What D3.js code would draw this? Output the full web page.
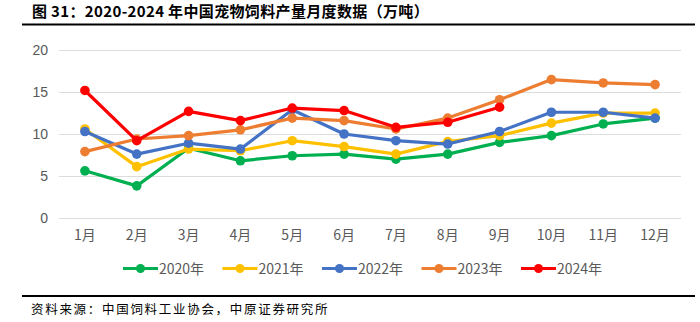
<!DOCTYPE html>
<html><head><meta charset="utf-8">
<script src="https://cdn.jsdelivr.net/npm/d3@7"></script>
<style>
body{margin:0;background:#fff;}
svg{display:block;}
</style></head>
<body>
<svg id="c" width="700" height="322"></svg>
<script>
const months = ["1月","2月","3月","4月","5月","6月","7月","8月","9月","10月","11月","12月"];
const yTicks = [0,5,10,15,20];
const years = ["2020年","2021年","2022年","2023年","2024年"];
const colors = ["#00B050","#FFC000","#4472C4","#ED7D31","#FF0000"];
const s2020 = [5.6,3.8,8.3,6.8,7.4,7.6,7.0,7.6,9.0,9.8,11.2,11.9];
const s2021 = [10.6,6.1,8.2,8.0,9.2,8.5,7.6,9.1,9.8,11.3,12.5,12.5];
const s2022 = [10.3,7.6,8.9,8.2,12.9,10.0,9.2,8.8,10.3,12.6,12.6,11.9];
const s2023 = [7.9,9.4,9.8,10.5,11.9,11.6,10.6,11.9,14.1,16.5,16.1,15.9];
const s2024 = [15.2,9.2,12.7,11.6,13.1,12.8,10.8,11.4,13.2];
const series = [s2020,s2021,s2022,s2023,s2024];

const svg = d3.select("#c");
const pL = 59, pR = 681, pT = 50.3, pB = 217.7;
const x = d3.scaleBand().domain(months).range([pL,pR]);
const y = d3.scaleLinear().domain([0,20]).range([pB,pT]);
const cjk = "'Noto Sans CJK SC','Noto Sans',sans-serif";

// title
svg.append("text").attr("x",32).attr("y",17).attr("font-family",cjk)
  .attr("font-weight","bold").attr("font-size",15).attr("letter-spacing",0.35).attr("fill","#000")
  .text("图 31：2020-2024 年中国宠物饲料产量月度数据（万吨）");
svg.append("line").attr("x1",22).attr("x2",695).attr("y1",24.5).attr("y2",24.5)
  .attr("stroke","#000").attr("stroke-width",2.2);

// grid
svg.append("g").selectAll("line").data(yTicks).join("line")
  .attr("x1",pL).attr("x2",pR)
  .attr("y1",d=>Math.round(y(d))+0.5).attr("y2",d=>Math.round(y(d))+0.5)
  .attr("stroke","#dcdcdc").attr("stroke-width",1);

// y axis labels
const ya = svg.append("g").attr("transform",`translate(${pL},0)`)
  .call(d3.axisLeft(y).tickValues(yTicks).tickSize(0).tickPadding(11));
ya.select(".domain").remove();
ya.selectAll("text").attr("font-family","'Liberation Sans',Arial,sans-serif").attr("font-size",14).attr("fill","#595959");

// x axis labels
const xa = svg.append("g").attr("transform",`translate(0,${pB})`)
  .call(d3.axisBottom(x).tickSize(0).tickPadding(12));
xa.select(".domain").remove();
xa.selectAll("text").attr("font-family",cjk).attr("font-size",14).attr("fill","#595959");

// lines
const line = d3.line().x((d,i)=>x(months[i])+x.bandwidth()/2).y(d=>y(d));
series.forEach((s,k)=>{
  const g = svg.append("g");
  g.append("path").datum(s).attr("d",line).attr("fill","none")
    .attr("stroke",colors[k]).attr("stroke-width",3.2).attr("stroke-linejoin","round");
  g.selectAll("circle").data(s).join("circle")
    .attr("cx",(d,i)=>x(months[i])+x.bandwidth()/2).attr("cy",d=>y(d))
    .attr("r",4.8).attr("fill",colors[k]);
});

// legend
const lg = svg.append("g");
years.forEach((name,k)=>{
  const lx = 123 + k*99.5, ly = 268.5;
  lg.append("line").attr("x1",lx).attr("x2",lx+35).attr("y1",ly).attr("y2",ly)
    .attr("stroke",colors[k]).attr("stroke-width",3.2);
  lg.append("circle").attr("cx",lx+17.5).attr("cy",ly).attr("r",4.5).attr("fill",colors[k]);
  lg.append("text").attr("x",lx+36).attr("y",ly+5).attr("font-family",cjk)
    .attr("font-size",14).attr("fill","#595959").text(name);
});

// source
svg.append("line").attr("x1",22).attr("x2",695).attr("y1",296).attr("y2",296)
  .attr("stroke","#000").attr("stroke-width",2.2);
svg.append("text").attr("x",31).attr("y",314).attr("font-family",cjk)
  .attr("font-size",12.5).attr("letter-spacing",1.7).attr("fill","#000")
  .text("资料来源：中国饲料工业协会，中原证券研究所");
</script>
</body></html>
